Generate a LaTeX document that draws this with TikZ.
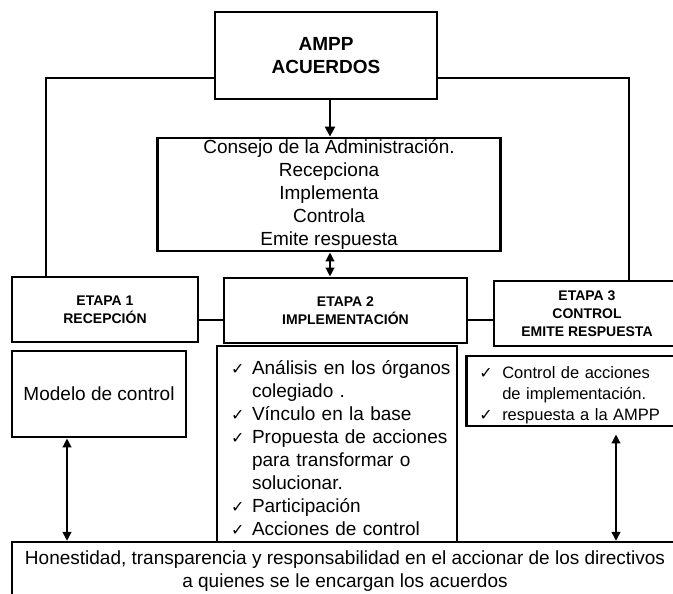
\documentclass[tikz,border=0pt]{standalone}
\usepackage{fontspec}
\setmainfont{Liberation Sans}
\newfontfamily\symfont{DejaVu Sans}
\usetikzlibrary{arrows.meta,positioning}
\tikzset{
	box/.style={draw,rectangle,line width=2.8pt,inner sep=0pt,align=center},
	head/.style={font=\bfseries\fontsize{19}{22.5}\selectfont},
	etapa/.style={font=\bfseries\fontsize{14}{18}\selectfont},
	body/.style={font=\fontsize{19}{23}\selectfont},
	smallbody/.style={font=\fontsize{16.5}{20.7}\selectfont},
	link/.style={line width=2pt},
	arr/.style={line width=2.4pt,-{Triangle[length=10pt,width=10pt]}},
	dbl/.style={line width=2.4pt,{Triangle[length=9pt,width=8.5pt]}-{Triangle[length=9pt,width=8.5pt]}}
}
\newcommand{\chkitem}[2]{\par\hangindent=#1\hangafter=1\noindent\makebox[#1][l]{\symfont\fontsize{16}{16}\selectfont ✓}#2}

\begin{document}
\begin{tikzpicture}[x=1pt,y=-1pt]
	\useasboundingbox (0,0) rectangle (673,594);
	\node[box,head,minimum width=222pt,minimum height=87pt] (ampp) at (326,55.5) {AMPP\\ACUERDOS};
	\node[box,body,minimum width=343.5pt,minimum height=113pt] (consejo) at (329,194.5) {Consejo de la Administración.\\Recepciona\\Implementa\\Controla\\Emite respuesta};
	\node[box,etapa,minimum width=186pt,minimum height=65pt] (etapa1) at (105,309.5) {ETAPA 1\\RECEPCIÓN};
	\node[box,etapa,minimum width=243pt,minimum height=65pt] (etapa2) at (345.5,310.5) {ETAPA 2\\IMPLEMENTACIÓN};
	\node[box,etapa,minimum width=186pt,minimum height=65pt] (etapa3) at (587,313.5) {ETAPA 3\\CONTROL\\EMITE RESPUESTA};
	\node[box,body,minimum width=174pt,minimum height=86pt] (modelo) at (99,394) {Modelo de control};
	\node[box,body,align=left,text width=240pt,minimum height=196pt] (lista2) at (337,444) {\leftskip=14pt
		\chkitem{21pt}{Análisis en los órganos\newline colegiado .}
		\chkitem{21pt}{Vínculo en la base}
		\chkitem{21pt}{Propuesta de acciones\newline para transformar o\newline solucionar.}
		\chkitem{21pt}{Participación}
		\chkitem{21pt}{Acciones de control}\par};
	\node[box,smallbody,align=left,text width=213.5pt,minimum height=70pt] (lista3) at (573,391) {\leftskip=13pt
		\chkitem{23pt}{Control de acciones\newline de implementación.}
		\chkitem{23pt}{respuesta a la AMPP}\par};
	\node[box,body,line width=2.2pt,minimum width=666pt,minimum height=58pt] (final) at (345,571) {Honestidad, transparencia y responsabilidad en el accionar de los directivos\\a quienes se le encargan los acuerdos};
	\node[coordinate] (izq) at (46,78) {};
	\node[coordinate] (der) at (629,78) {};
	\node[coordinate] (eje) at (330,0) {};
	\node[coordinate] (medio) at (0,320) {};
	\node[coordinate] (bajo1) at (67,0) {};
	\node[coordinate] (bajo3) at (616,0) {};

	\draw[link] (ampp.west |- izq) -- (izq) -- (izq |- etapa1.north);
	\draw[link] (ampp.east |- der) -- (der) -- (der |- etapa3.north);
	\draw[link] (etapa1.east |- medio) -- (etapa2.west |- medio);
	\draw[link] (etapa2.east |- medio) -- (etapa3.west |- medio);
	\draw[arr] (ampp.south -| eje) -- (consejo.north -| eje);
	\draw[dbl] (consejo.south -| eje) -- (etapa2.north -| eje);
	\draw[dbl] (modelo.south -| bajo1) -- (final.north -| bajo1);
	\draw[dbl,shorten <=7pt] (lista3.south -| bajo3) -- (final.north -| bajo3);
\end{tikzpicture}
\end{document}
